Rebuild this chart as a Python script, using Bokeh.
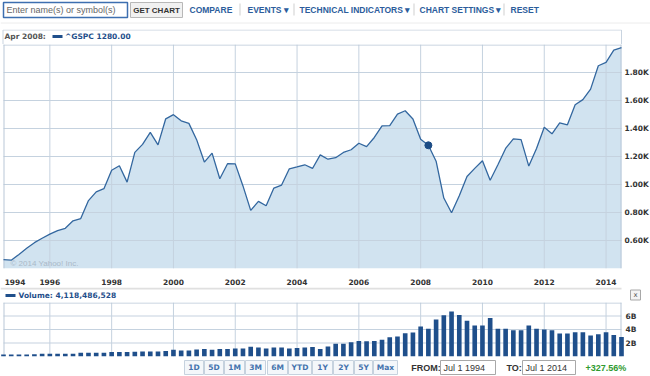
from bokeh.plotting import figure
from bokeh.layouts import column
from bokeh.models import Range1d, FixedTicker, Label
from bokeh.embed import file_html
from bokeh.resources import INLINE
from bokeh.core.properties import value

# ---------------- data ----------------
# quarter start dates (decimal years), Jul 1994 .. Jul 2014
quarters = [1994.5 + 0.25 * i for i in range(81)]

# ^GSPC quarterly close
gspc_close = [
    462.69, 459.27, 500.71, 544.75, 584.41, 615.93, 645.50, 670.63, 687.31, 740.74,
    757.12, 885.14, 947.28, 970.43, 1101.75, 1133.84, 1017.01, 1229.23, 1286.37, 1372.71,
    1282.71, 1469.25, 1498.58, 1454.60, 1436.51, 1320.28, 1160.33, 1224.42, 1040.94, 1148.08,
    1147.39, 989.82, 815.28, 879.82, 848.18, 974.50, 995.97, 1111.92, 1126.21, 1140.84,
    1114.58, 1211.92, 1180.59, 1191.33, 1228.81, 1248.29, 1294.83, 1270.20, 1335.85, 1418.30,
    1420.86, 1503.35, 1526.75, 1468.36, 1322.70, 1280.00, 1166.36, 903.25, 797.87, 919.32,
    1057.08, 1115.10, 1169.43, 1030.71, 1141.20, 1257.64, 1325.83, 1320.64, 1131.42, 1257.60,
    1408.47, 1362.16, 1440.67, 1426.19, 1569.19, 1606.28, 1681.55, 1848.36, 1872.34, 1960.23,
    1978.00,
]

# average daily volume per quarter, billions
gspc_volume = [
    0.28, 0.30, 0.30, 0.30, 0.32, 0.40, 0.40, 0.42, 0.42, 0.42,
    0.55, 0.55, 0.55, 0.55, 0.68, 0.65, 0.65, 0.72, 0.75, 0.75,
    0.75, 0.82, 1.00, 0.90, 0.90, 1.05, 1.10, 1.00, 1.10, 1.10,
    1.20, 1.20, 1.45, 1.35, 1.20, 1.35, 1.35, 1.20, 1.25, 1.35,
    1.40, 1.10, 1.50, 1.90, 1.90, 2.10, 2.30, 2.25, 2.30, 2.50,
    2.85, 2.95, 3.45, 3.55, 4.45, 4.12, 5.50, 6.10, 6.65, 6.15,
    5.30, 4.60, 4.60, 5.70, 4.10, 4.10, 3.90, 3.90, 4.60, 4.10,
    4.00, 3.90, 3.40, 3.40, 3.60, 3.60, 3.10, 3.30, 3.60, 3.20,
    2.90,
]

highlight_index = 55  # Apr 2008

year_ticks = [1994.875, 1996, 1998, 2000, 2002, 2004, 2006, 2008, 2010, 2012, 2014]
year_labels = ["1994", "1996", "1998", "2000", "2002", "2004", "2006", "2008", "2010", "2012", "2014"]
grid_years = [1996, 1998, 2000, 2002, 2004, 2006, 2008, 2010, 2012, 2014]

price_ticks = [600, 800, 1000, 1200, 1400, 1600, 1800]
price_labels = ["0.60K", "0.80K", "1.00K", "1.20K", "1.40K", "1.60K", "1.80K"]

vol_ticks = [2, 4, 6]
vol_labels = ["2B", "4B", "6B"]

header_date = "Apr 2008:"
header_symbol = "^GSPC 1280.00"
volume_text = "Volume: 4,118,486,528"
toolbar_links = ["COMPARE", "EVENTS \u25be", "TECHNICAL INDICATORS \u25be", "CHART SETTINGS \u25be", "RESET"]
range_buttons = ["1D", "5D", "1M", "3M", "6M", "YTD", "1Y", "2Y", "5Y", "Max"]
from_text = "Jul 1 1994"
to_text = "Jul 1 2014"
change_text = "+327.56%"

# ---------------- style ----------------
W = 650
PLOT_L, PLOT_R = 3, 621             # pixel extent of the price / volume plotting area
X0, X1 = 1994.5, 2014.5             # time span shown
PPY = (PLOT_R - PLOT_L) / (X1 - X0)  # pixels per year
XR_LO = X0 - PLOT_L / PPY
XR_HI = X1 + (W - PLOT_R) / PPY
P_LO, P_HI = 400, 2000
V_LO, V_HI = 0, 8
MAIN_H, VOL_H = 228, 54              # frame heights in px

BLUE = "#1f4f8b"
LINK = "#2c5d9c"
GRID = "#c5d2df"
OUTLINE = "#b9c8d8"
VERD = value("DejaVu Sans")
ARIAL = value("Liberation Sans")


def deco(h):
    # full-width frame; data units equal page pixels, y grows downward
    return figure(width=W, height=h, x_range=Range1d(0, W), y_range=Range1d(h, 0),
                  x_axis_type=None, y_axis_type=None, toolbar_location=None,
                  output_backend="svg", min_border=0, outline_line_color=None,
                  background_fill_color="white", border_fill_color="white")


def grid_and_frame(fig, ylo, yhi, yticks, frame_px):
    px_x = 1.0 / PPY                      # one pixel in x data units
    px_y = (yhi - ylo) / frame_px         # one pixel in y data units
    fig.vbar(x=grid_years, width=px_x, top=yhi, bottom=ylo,
             fill_color=GRID, line_color=None)
    fig.hbar(y=yticks, height=px_y, left=X0, right=X1,
             fill_color=GRID, line_color=None)
    # frame edges: left, right, top
    fig.vbar(x=[X0 + px_x / 2, X1 - px_x / 2], width=px_x, top=yhi, bottom=ylo,
             fill_color=OUTLINE, line_color=None)
    fig.hbar(y=[yhi - px_y / 2], height=px_y, left=X0, right=X1,
             fill_color=OUTLINE, line_color=None)


# ---------------- toolbar (0-29) ----------------
tb = deco(29)
tb.quad(left=[3], right=[127], top=[2], bottom=[17], fill_color="white",
        line_color="#3d6fb0", line_width=1.5)
tb.text(x=[6], y=[9.8], text=["Enter name(s) or symbol(s)"], text_font=ARIAL,
        text_font_size="9px", text_color="#666666", text_baseline="middle")
tb.quad(left=[130], right=[182], top=[2], bottom=[17], fill_color="#f1f1f1",
        line_color="#b8b8b8", line_width=1)
tb.text(x=[156], y=[9.8], text=["GET CHART"], text_font=ARIAL, text_font_size="8px",
        text_font_style="bold", text_color="#333333", text_baseline="middle", text_align="center")
link_x = [189, 247, 299, 419, 510]
tb.text(x=link_x, y=[9.5] * 5, text=toolbar_links, text_font=ARIAL, text_font_size="8.5px",
        text_font_style="bold", text_color=LINK, text_baseline="middle")
sep_x = [239.5, 293.5, 413.5, 503.5]
tb.segment(x0=sep_x, x1=sep_x, y0=[3] * 4, y1=[15] * 4, line_color="#cfcfcf", line_width=1)
tb.segment(x0=[0], x1=[W], y0=[22.5], y1=[22.5], line_color="#ececec", line_width=1)

# ---------------- header (29-44) ----------------
hd = deco(15)
hd.quad(left=[2.5], right=[621], top=[0.5], bottom=[15.5], fill_color=None,
        line_color="#c9d4e0", line_width=1)
hd.text(x=[4], y=[7.3], text=[header_date], text_font=VERD, text_font_size="7.5px",
        text_font_style="bold", text_color="#555555", text_baseline="middle")
hd.quad(left=[52], right=[62], top=[5.5], bottom=[8.5], fill_color=BLUE, line_color=None)
hd.text(x=[64.5], y=[7.3], text=[header_symbol], text_font=VERD, text_font_size="7.5px",
        text_font_style="bold", text_color=BLUE, text_baseline="middle")

# ---------------- main chart (44-287) ----------------
xr = Range1d(XR_LO, XR_HI)
p = figure(width=W, height=MAIN_H + 15, x_range=xr, y_range=Range1d(P_LO, P_HI),
           y_axis_location=None, toolbar_location=None, output_backend="svg",
           min_border_left=0, min_border_right=0, min_border_top=0, min_border_bottom=15,
           outline_line_color=None, background_fill_color="white",
           border_fill_color="white")
p.grid.visible = False
p.varea(x=quarters, y1=[P_LO] * len(quarters), y2=gspc_close, fill_color="#cce0ee",
        fill_alpha=0.9)
grid_and_frame(p, P_LO, P_HI, price_ticks, MAIN_H)
p.line(x=quarters, y=gspc_close, line_color="#33679f", line_width=1.3)
p.scatter(x=[quarters[highlight_index]], y=[gspc_close[highlight_index]], size=7,
          fill_color="#1c4c85", line_color="#1c4c85")
# right-hand price labels
p.text(x=[X1 + 3 / PPY] * len(price_ticks), y=price_ticks, text=price_labels,
       text_font=VERD, text_font_size="7.5px", text_font_style="bold",
       text_color="#333333", text_baseline="middle", text_align="left")

p.xaxis.ticker = FixedTicker(ticks=year_ticks)
p.xaxis.major_label_overrides = dict(zip(year_ticks, year_labels))
ax = p.xaxis[0]
ax.axis_line_color = None
ax.major_tick_line_color = None
ax.minor_tick_line_color = None
ax.major_label_text_font = "DejaVu Sans"
ax.major_label_text_font_size = "7.5px"
ax.major_label_text_font_style = "bold"
ax.major_label_text_color = "#333333"
ax.major_label_standoff = 4

p.add_layout(Label(x=10, y=1, x_units="screen", y_units="screen", text="\u00a9 2014 Yahoo! Inc.",
                   text_font="Liberation Sans", text_font_size="8px", text_color="#aab9c8"))

# ---------------- volume header (287-302) ----------------
vh = deco(15)
vh.segment(x0=[0], x1=[621], y0=[1], y1=[1], line_color="#e0e0e0", line_width=2)
vh.quad(left=[5], right=[15], top=[6.5], bottom=[9.5], fill_color=BLUE, line_color=None)
vh.text(x=[18], y=[8.2], text=[volume_text], text_font=VERD, text_font_size="7.5px",
        text_font_style="bold", text_color=BLUE, text_baseline="middle")
vh.quad(left=[630], right=[640], top=[2.5], bottom=[12.5], fill_color="#f4f4f4",
        line_color="#a8a8a8", line_width=1)
vh.text(x=[635], y=[7.3], text=["x"], text_font=VERD, text_font_size="7px",
        text_color="#555555", text_baseline="middle", text_align="center")

# ---------------- volume chart (302-357) ----------------
v = figure(width=W, height=VOL_H + 1, x_range=xr, y_range=Range1d(V_LO, V_HI),
           x_axis_location=None, y_axis_location=None, toolbar_location=None,
           output_backend="svg", min_border_left=0, min_border_right=0,
           min_border_top=0, min_border_bottom=1, outline_line_color=None,
           background_fill_color="white", border_fill_color="white")
v.grid.visible = False
grid_and_frame(v, V_LO, V_HI, vol_ticks, VOL_H)
v.vbar(x=quarters, top=gspc_volume, bottom=0, width=0.15, fill_color=BLUE, line_color=None)
v.text(x=[X1 + 4 / PPY] * len(vol_ticks), y=vol_ticks, text=vol_labels,
       text_font=VERD, text_font_size="7.5px", text_font_style="bold",
       text_color="#333333", text_baseline="middle", text_align="left")

# ---------------- bottom controls (357-376) ----------------
bt = deco(19)
btn_edges = [(184, 203), (204, 223), (224, 244), (245, 265), (267, 287), (288, 311),
             (312, 332), (333, 353), (354, 372), (373, 397)]
bl = [a for a, b in btn_edges]
br = [b for a, b in btn_edges]
bt.quad(left=bl, right=br, top=[3] * 10, bottom=[17] * 10, fill_color="#f4f7fa",
        line_color="#c6d2de", line_width=1)
bt.text(x=[(a + b) / 2 for a, b in btn_edges], y=[10.3] * 10, text=range_buttons,
        text_font=VERD, text_font_size="7.5px", text_font_style="bold", text_color="#4473ad",
        text_baseline="middle", text_align="center")
bt.text(x=[410.7, 506], y=[10, 10], text=["FROM:", "TO:"], text_font=ARIAL,
        text_font_size="9px", text_font_style="bold", text_color="#333333",
        text_baseline="middle")
bt.quad(left=[440, 522], right=[495, 575], top=[3, 3], bottom=[17, 17],
        fill_color="white", line_color="#a8a8a8", line_width=1)
bt.text(x=[443, 525], y=[10, 10], text=[from_text, to_text], text_font=ARIAL,
        text_font_size="9px", text_color="#333333", text_baseline="middle")
bt.text(x=[585], y=[10], text=[change_text], text_font=ARIAL, text_font_size="9px",
        text_font_style="bold", text_color="#2f9a2f", text_baseline="middle")

layout = column(tb, hd, p, vh, v, bt, spacing=0)
open("out.html", "w").write(file_html(layout, INLINE))
